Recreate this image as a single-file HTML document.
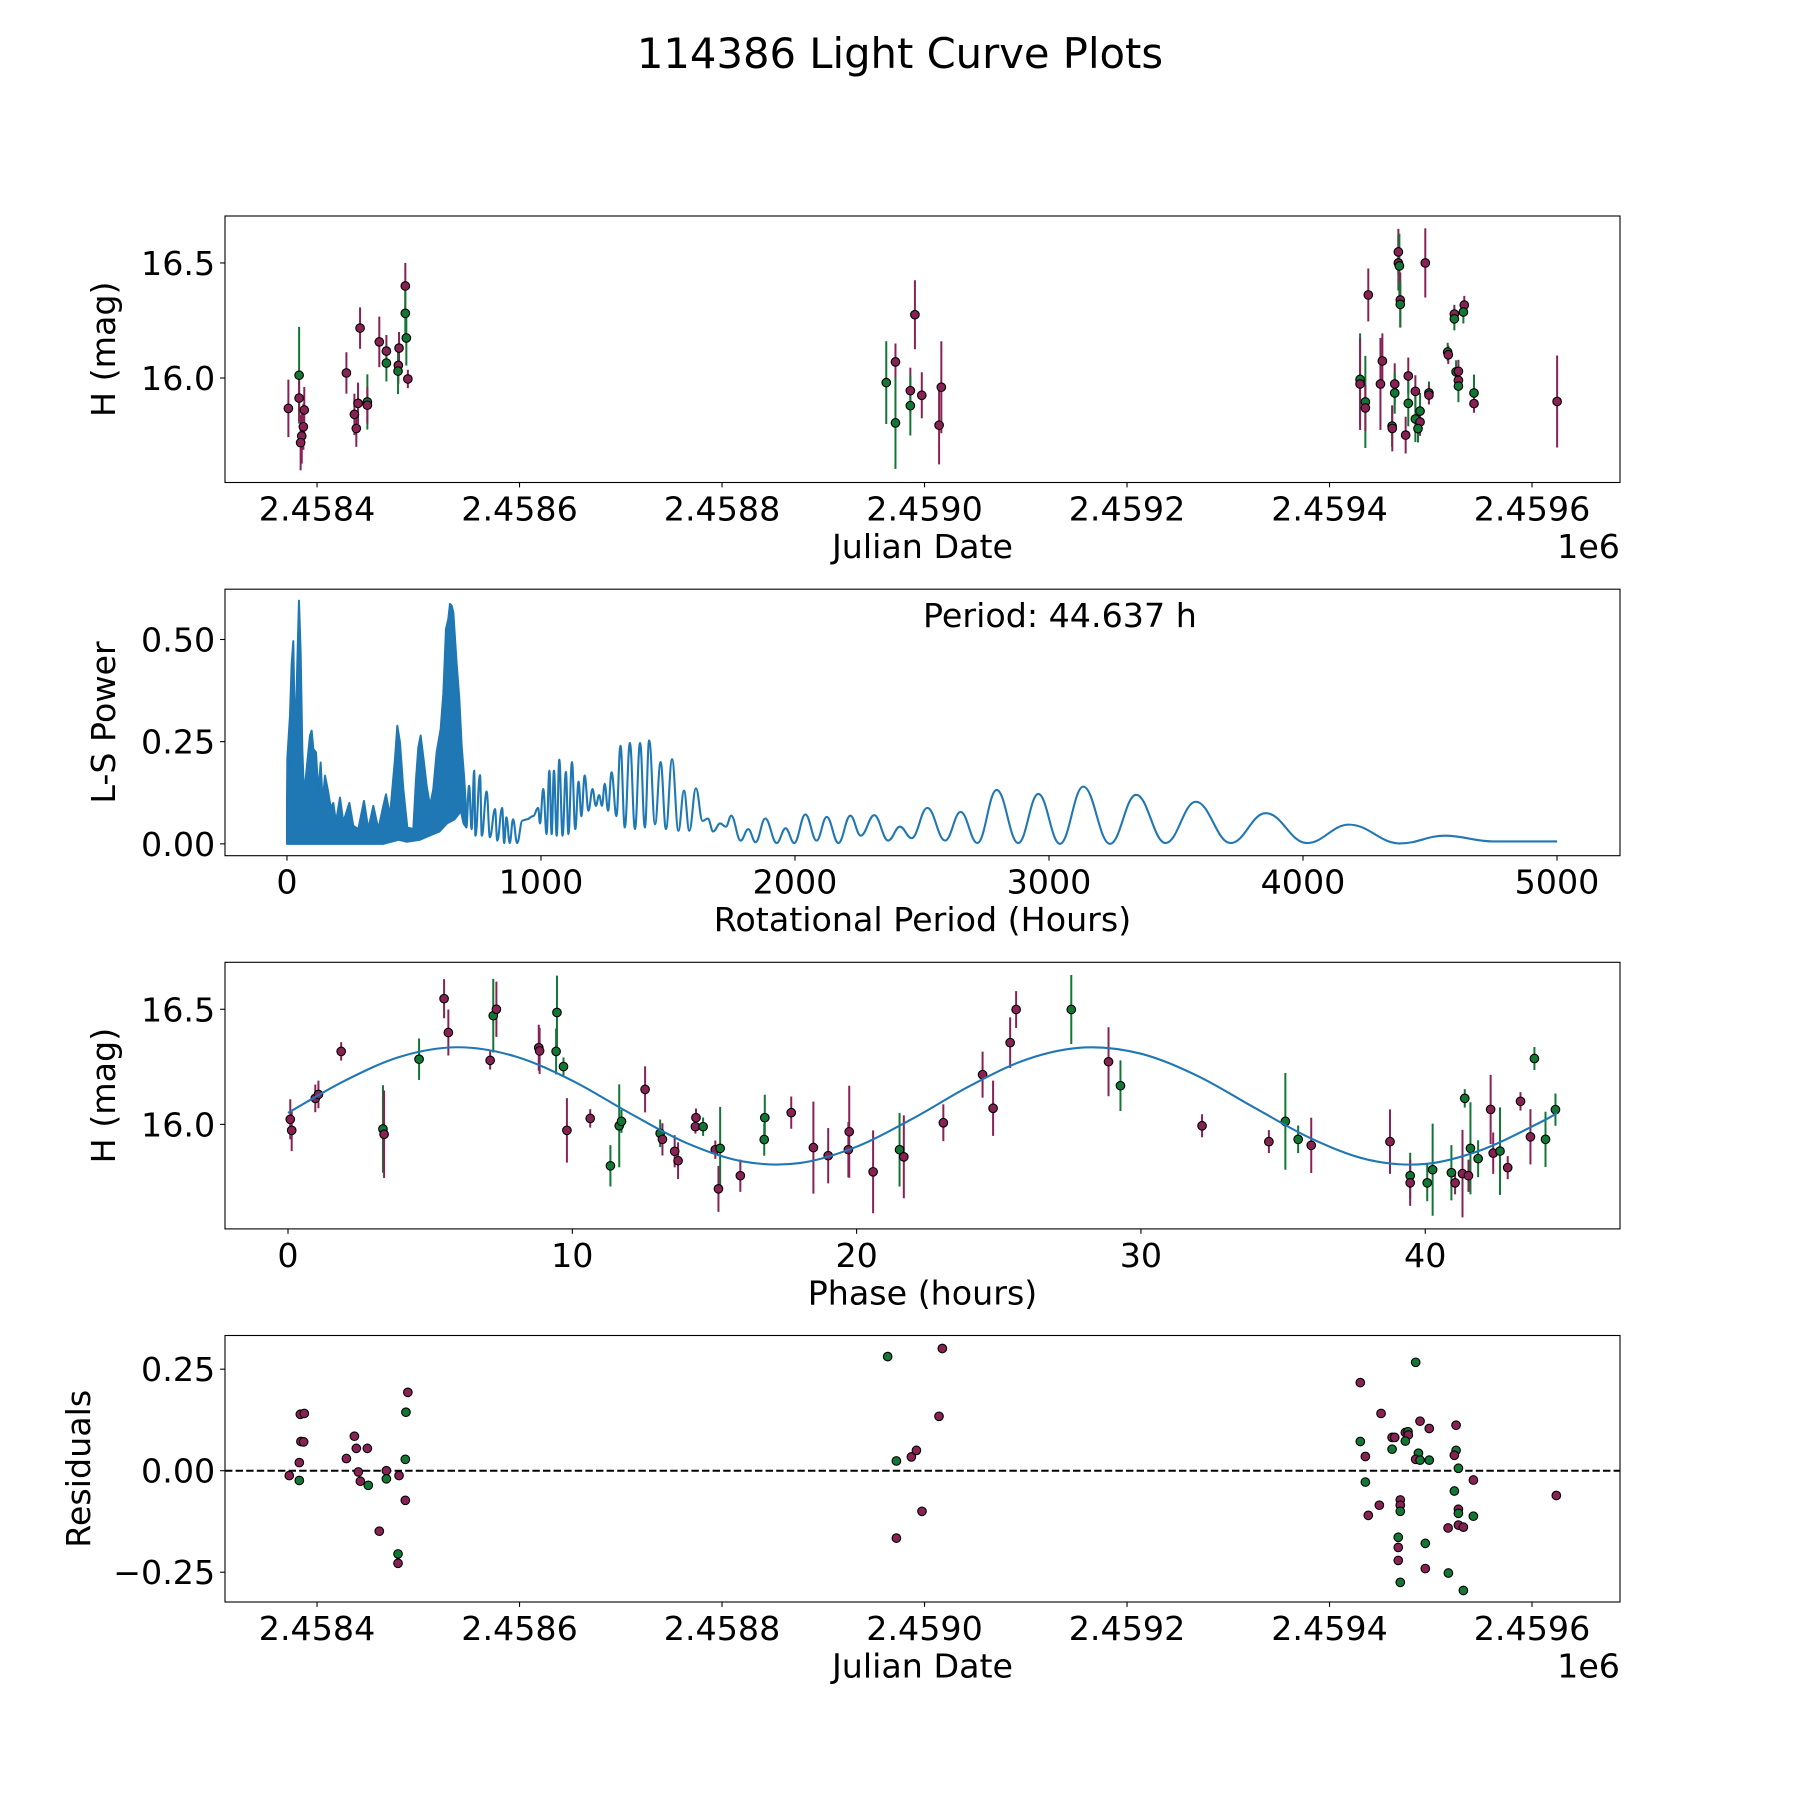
<!DOCTYPE html>
<html><head><meta charset="utf-8">
<style>
html,body{margin:0;padding:0;background:#fff;}
svg{display:block;font-family:"DejaVu Sans","Liberation Sans",sans-serif;}
</style></head>
<body>
<svg id="fig" width="1800" height="1800" viewBox="0 0 1800 1800" xmlns="http://www.w3.org/2000/svg">
<rect width="1800" height="1800" fill="#fff"/>
<text x="900" y="68" text-anchor="middle" font-size="41.7" fill="#000">114386 Light Curve Plots</text>
</svg>
<script>
// ---------- Panel 1: light curve (days since JD 2458400) ----------
const lcDay = [-28.3,-17.7,-17.7,-12.6,-13.5,-15.1,-16.2,29.0,42.5,36.9,38.8,40.5,49.7,49.7,61.5,68.5,68.5,81.0,80.3,80.0,87.2,87.2,88.2,89.7,
 562.2,571.3,571.3,586.0,586.0,590.5,597.3,614.4,616.6,
 1038.3,1030.2,1030.2,1035.4,1035.4,1052.2,1050.3,1068.0,1068.0,1069.0,1069.9,1069.9,1094.6,1061.8,1062.0,1064.4,1064.4,1077.8,1077.8,1075.2,1084.8,1084.8,1089.4,1089.4,1087.4,1098.2,1098.2,1123.3,1123.3,1133.1,1132.2,1116.7,1117.3,1125.0,1127.3,1127.3,1127.3,1142.7,1142.7,1224.8];
const lcMag = [15.868,16.012,15.913,15.861,15.788,15.748,15.719,16.022,16.217,15.842,15.781,15.89,15.896,15.882,16.157,16.117,16.065,16.13,16.055,16.03,16.40,16.281,16.174,15.996,
 15.98,16.07,15.805,15.945,15.88,16.275,15.925,15.795,15.96,
 16.361,15.994,15.974,15.896,15.87,16.074,15.974,16.548,16.5,16.487,16.339,16.32,16.5,15.791,15.781,15.974,15.935,16.009,15.89,15.752,15.942,15.822,15.856,15.809,15.78,15.935,15.926,16.278,16.257,16.317,16.287,16.113,16.101,16.027,16.029,15.99,15.965,15.935,15.889,15.898];
const lcErr = [0.125,0.21,0.10,0.10,0.10,0.12,0.12,0.09,0.09,0.09,0.08,0.09,0.12,0.08,0.11,0.07,0.08,0.07,0.08,0.10,0.10,0.10,0.12,0.04,
 0.18,0.08,0.20,0.10,0.13,0.15,0.10,0.17,0.20,
 0.115,0.20,0.20,0.20,0.10,0.12,0.20,0.10,0.12,0.14,0.12,0.10,0.15,0.09,0.10,0.09,0.09,0.08,0.10,0.08,0.07,0.10,0.08,0.06,0.06,0.05,0.04,0.04,0.05,0.04,0.05,0.04,0.04,0.05,0.05,0.04,0.07,0.08,0.04,0.20];
const lcBand = ['P','G','P','P','P','P','P','P','P','P','P','P','G','P','P','P','G','P','P','G','P','G','G','P',
 'G','P','G','P','G','P','P','P','P',
 'P','G','P','G','P','P','P','P','P','G','P','G','P','G','P','P','G','P','G','P','P','G','G','P','G','G','P','P','G','P','G','G','P','G','P','P','G','G','P','P'];
// ---------- Panel 2: Lomb-Scargle periodogram ----------
const denseP = [0,1.3,11.8,18.4,24.9,31.5,38,47.2,53.8,60.4,67,77.4,90.6,97.1,103.7,114.2,123.4,132.6,140.4,149.6,162.7,172,182.4,193,208.7,221.8,245.5,261.2,280.9,303.1,320.2,339.9,359.6,379.3,389.8,405.5,425.2,434.4,444.9,458,473.8,497.4,507.9,517.1,526.2,539.4,549.9,563,576.1,589.2,605,615.5,626,635.2,641.7,648.3,654.9,668,678.5,687.7,696.9,706];
const densePow = [0.10,0.208,0.314,0.44,0.496,0.248,0.379,0.595,0.468,0.232,0.118,0.183,0.265,0.277,0.232,0.224,0.126,0.199,0.10,0.167,0.126,0.089,0.10,0.053,0.113,0.053,0.10,0.044,0.036,0.105,0.036,0.093,0.036,0.093,0.121,0.069,0.208,0.289,0.248,0.134,0.04,0.036,0.158,0.236,0.265,0.199,0.142,0.093,0.134,0.224,0.281,0.367,0.526,0.55,0.587,0.583,0.566,0.44,0.355,0.24,0.167,0.08];
const lowerP = [0,380,440,472,524,560,600,630,660,685,695,706];
const lowerPow = [0,0,0.01,0.005,0.01,0.02,0.03,0.05,0.06,0.08,0.05,0.04];
const smoothP = [706,717,727,737,742,760,767,786,799,819,828,847,855,864,877,890,906,927,945,969,989,996,1009,1022,1033,1042,1051,1062,1072,1085,1098,1108,1122,1135,1148,1159,1172,1187,1203,1216,1229,1240,1251,1264,1278,1297,1313,1330,1350,1370,1390,1409,1426,1449,1471,1492,1516,1541,1563,1584,1610,1636,1657,1678,1705,1728,1749,1786,1816,1845,1883,1928,1963,1997,2041,2085,2125,2171,2218,2259,2312,2367,2413,2459,2521,2591,2652,2718,2794,2879,2958,3043,3135,3240,3343,3459,3578,3715,3853,4015,4181,4382,4559,4749,5000];
const smoothPow = [0.04,0.142,0.036,0.179,0.02,0.168,0.02,0.128,0.016,0.085,0.008,0.088,0.002,0.065,0.002,0.06,0.002,0.057,0.06,0.068,0.088,0.05,0.134,0.024,0.179,0.024,0.179,0.02,0.206,0.02,0.176,0.024,0.20,0.036,0.152,0.068,0.167,0.081,0.134,0.093,0.119,0.093,0.147,0.081,0.175,0.068,0.24,0.04,0.247,0.036,0.247,0.04,0.253,0.048,0.20,0.036,0.207,0.032,0.13,0.032,0.136,0.056,0.062,0.030,0.05,0.042,0.069,0.008,0.036,0.004,0.062,0.002,0.038,0.002,0.072,0.008,0.066,0.002,0.069,0.02,0.07,0.008,0.042,0.014,0.088,0.008,0.078,0.002,0.132,0.002,0.122,0.0,0.14,0.0,0.12,0.002,0.103,0.002,0.075,0.002,0.047,0.001,0.02,0.006,0.006];
const periodLabel = "Period: 44.637 h";
// ---------- Panel 3: phased light curve ----------
const phHour = [0.08,0.13,0.96,1.07,1.87,3.34,3.38,4.61,5.49,5.64,7.11,7.22,7.33,8.82,8.85,9.43,9.46,9.69,9.81,10.63,11.34,11.65,11.73,12.56,13.09,13.17,13.6,13.72,14.35,14.33,14.6,15.03,15.2,15.14,15.91,16.77,16.75,17.7,18.48,19.0,19.74,19.71,20.58,21.51,21.66,
 23.05,24.43,24.8,25.4,25.61,27.55,28.86,29.28,32.15,34.5,35.08,35.53,35.99,38.76,39.47,39.47,40.07,40.26,40.92,41.05,41.31,41.52,41.39,41.59,41.86,42.3,42.39,42.63,42.9,43.35,43.7,43.84,44.23,44.58];
const phMag = [16.022,15.974,16.113,16.13,16.317,15.98,15.957,16.283,16.546,16.399,16.278,16.472,16.5,16.333,16.319,16.317,16.486,16.251,15.974,16.026,15.82,15.994,16.013,16.152,15.961,15.935,15.883,15.842,16.029,15.99,15.99,15.89,15.896,15.72,15.777,16.029,15.934,16.051,15.899,15.864,15.968,15.89,15.794,15.89,15.859,
 16.007,16.216,16.07,16.355,16.499,16.499,16.272,16.168,15.994,15.925,16.013,15.935,15.909,15.925,15.777,15.746,15.746,15.803,15.79,15.746,15.786,15.777,16.113,15.896,15.851,16.065,15.875,15.884,15.812,16.1,15.946,16.286,15.935,16.064];
const phErr = [0.087,0.09,0.06,0.06,0.04,0.19,0.19,0.09,0.085,0.1,0.04,0.16,0.12,0.1,0.1,0.1,0.16,0.04,0.14,0.04,0.09,0.18,0.05,0.1,0.06,0.07,0.07,0.08,0.04,0.03,0.04,0.04,0.18,0.1,0.07,0.1,0.07,0.07,0.2,0.12,0.2,0.12,0.18,0.16,0.18,
 0.08,0.1,0.12,0.11,0.08,0.15,0.15,0.11,0.05,0.05,0.21,0.06,0.12,0.14,0.1,0.1,0.08,0.2,0.12,0.05,0.19,0.07,0.04,0.2,0.08,0.15,0.09,0.19,0.05,0.04,0.12,0.05,0.12,0.07];
const phBand = ['P','P','P','P','P','G','P','G','P','P','P','G','P','P','P','G','G','G','P','P','G','G','G','P','G','P','P','P','P','P','G','P','G','P','P','G','G','P','P','P','P','P','P','G','P',
 'P','P','P','P','P','G','P','G','P','P','G','G','P','P','G','P','G','G','G','P','P','P','G','G','G','P','P','G','P','P','P','G','G','G'];
const modelHour = [0,2,4,6,8,10,12,14,16,18,20,22,24,26,28,30,32,34,36,38,40,42,44,44.637];
const modelMag = [16.050,16.190,16.296,16.335,16.295,16.190,16.050,15.920,15.839,15.832,15.903,16.027,16.168,16.283,16.334,16.307,16.210,16.072,15.938,15.846,15.828,15.890,16.006,16.049];
// ---------- Panel 4: residuals ----------
const resDay = [-27.4,-17.5,-17.5,-15.9,-13.2,-16.5,-12.6,29.0,36.9,38.8,49.7,40.8,42.8,50.6,61.5,68.5,68.5,81.0,80.0,80.0,87.2,87.2,87.8,89.7,
 563.6,617.6,614.3,572.2,587.0,592.0,597.5,572.2,
 1030.4,1030.4,1035.4,1035.4,1038.3,1049.2,1050.9,1061.8,1064.4,1061.8,1074.9,1077.5,1077.8,1074.9,1085.1,1089.4,1098.5,1087.8,1085.1,1089.4,1098.5,1069.9,1069.9,1069.9,1067.9,1067.9,1067.9,1069.9,1094.6,1094.6,1125.0,1125.0,1123.3,1127.3,1123.3,1127.3,1127.3,1127.3,1132.2,1117.1,1117.4,1132.2,1142.1,1142.1,1224.0];
const resVal = [-0.012,-0.024,0.020,0.072,0.071,0.139,0.141,0.030,0.085,0.055,0.055,-0.003,-0.026,-0.036,-0.149,0.0,-0.020,-0.012,-0.205,-0.228,0.028,-0.073,0.144,0.193,
 0.281,0.301,0.134,0.024,0.034,0.05,-0.1,-0.166,
 0.217,0.072,0.035,-0.028,-0.110,-0.085,0.141,0.082,0.082,0.053,0.094,0.096,0.088,0.073,0.267,0.122,0.104,0.043,0.028,0.026,0.026,-0.072,-0.085,-0.1,-0.164,-0.189,-0.221,-0.275,-0.179,-0.241,0.112,0.05,0.038,0.006,-0.05,-0.095,-0.105,-0.134,-0.139,-0.141,-0.252,-0.295,-0.023,-0.112,-0.061];
const resBand = ['P','G','P','P','P','P','P','P','P','P','P','P','P','G','P','P','G','P','G','P','G','P','G','P',
 'G','P','P','G','P','P','P','P',
 'P','G','P','G','P','P','P','P','P','G','P','G','P','G','G','P','P','G','P','G','G','P','P','G','G','P','P','G','G','P','P','G','P','G','G','P','G','P','P','P','G','G','P','G','P'];
// ---------- Tick labels ----------
const jdTickVals = [2458400,2458600,2458800,2459000,2459200,2459400,2459600];
const jdTickLabels = ['2.4584','2.4586','2.4588','2.4590','2.4592','2.4594','2.4596'];
const magTickVals = [16.0,16.5];
const magTickLabels = ['16.0','16.5'];
const perTickVals = [0,1000,2000,3000,4000,5000];
const powTickVals = [0,0.25,0.5];
const powTickLabels = ['0.00','0.25','0.50'];
const phTickVals = [0,10,20,30,40];
const resTickVals = [-0.25,0,0.25];
const resTickLabels = ['\u22120.25','0.00','0.25'];

const JD0 = 2458400;
const NS='http://www.w3.org/2000/svg';
const svg=document.getElementById('fig');
const COL={P:'#882255',G:'#117733'};
function mk(tag,attrs,parent){const e=document.createElementNS(NS,tag);for(const k in attrs)e.setAttribute(k,attrs[k]);(parent||svg).appendChild(e);return e;}
function scale(d0,d1,r0,r1){return v=>r0+(v-d0)/(d1-d0)*(r1-r0);}
const L=225,R=1620;
const panels=[
 {top:216,bot:482.5,xd:[2458309.1,2459686.9],yd:[15.546,16.704]},
 {top:589.2,bot:855.7,xd:[-244,5248],yd:[-0.029,0.623]},
 {top:962.3,bot:1228.9,xd:[-2.216,46.85],yd:[15.546,16.704]},
 {top:1335.5,bot:1602,xd:[2458309.1,2459686.9],yd:[-0.3234,0.333]}
];
panels.forEach(p=>{p.x=scale(p.xd[0],p.xd[1],L,R);p.y=scale(p.yd[0],p.yd[1],p.bot,p.top);});

function axes(p,idx,xv,xl,yv,yl,xlabel,ylabel,ylabX,offset){
 const g=mk('g',{});
 
 
 xv.forEach((v,i)=>{const x=p.x(v);
  const t=mk('line',{x1:x,x2:x,y1:p.bot,y2:p.bot+4.9,stroke:'#000','stroke-width':1.1},g);
  
  
  const tx=mk('text',{x:x,y:p.bot+38,'text-anchor':'middle','font-size':33.3},g);tx.textContent=xl[i];
  
  
 });
 yv.forEach((v,i)=>{const y=p.y(v);
  const t=mk('line',{x1:L-4.9,x2:L,y1:y,y2:y,stroke:'#000','stroke-width':1.1},g);
  
  
  const tx=mk('text',{x:L-9.8,y:y+12,'text-anchor':'end','font-size':33.3},g);tx.textContent=yl[i];
  
  
 });
 const xlab=mk('text',{x:(L+R)/2,y:p.bot+75.5,'text-anchor':'middle','font-size':33.3},g);xlab.textContent=xlabel;
 
 
 const cy=(p.top+p.bot)/2;
 const ylab=mk('text',{x:ylabX,y:cy,'text-anchor':'middle','font-size':33.3,transform:'rotate(-90 '+ylabX+' '+cy+')'},g);ylab.textContent=ylabel;
 
 
 if(offset){const o=mk('text',{x:R,y:p.bot+75.5,'text-anchor':'end','font-size':33.3},g);o.textContent=offset;
  
  }
}
function frame(p){
 const r=mk('rect',{x:L,y:p.top,width:R-L,height:p.bot-p.top,fill:'none',stroke:'#000','stroke-width':1.1});
 
 
}
function clipFor(p,id){const c=mk('clipPath',{id:id});mk('rect',{x:L,y:p.top,width:R-L,height:p.bot-p.top},c);return 'url(#'+id+')';}
function errPoints(p,xs,ys,es,bs,name){
 const g=mk('g',{'clip-path':clipFor(p,name+'-clip')});
 
 
 xs.forEach((xv,i)=>{if(es){const x=p.x(xv);
  const l=mk('line',{x1:x,x2:x,y1:p.y(ys[i]-es[i]),y2:p.y(ys[i]+es[i]),stroke:COL[bs[i]],'stroke-width':2},g);
  
  }});
 xs.forEach((xv,i)=>{
  const c=mk('circle',{cx:p.x(xv),cy:p.y(ys[i]),r:4.3,fill:COL[bs[i]],stroke:'#000','stroke-width':1.1},g);
  
  
 });
}
// Panel 1
const p1=panels[0];
errPoints(p1,lcDay.map(d=>d+JD0),lcMag,lcErr,lcBand,'light-curve-points');
frame(p1);
axes(p1,1,jdTickVals,jdTickLabels,magTickVals,magTickLabels,'Julian Date','H (mag)',115,'1e6');
// Panel 2
const p2=panels[1];
(function(){
 const g=mk('g',{'clip-path':clipFor(p2,'ls-clip')});
 
 
 let d='M'+p2.x(denseP[0])+','+p2.y(densePow[0]);
 for(let i=1;i<denseP.length;i++)d+='L'+p2.x(denseP[i])+','+p2.y(densePow[i]);
 for(let i=lowerP.length-1;i>=0;i--)d+='L'+p2.x(lowerP[i])+','+p2.y(lowerPow[i]);
 d+='Z';
 const dense=mk('path',{d:d,fill:'#1f77b4',stroke:'#1f77b4','stroke-width':2,'stroke-linejoin':'round'},g);
 
 
 let s='M'+p2.x(smoothP[0])+','+p2.y(smoothPow[0]);
 for(let i=1;i<smoothP.length;i++){
  const x0=p2.x(smoothP[i-1]),x1=p2.x(smoothP[i]),y0=p2.y(smoothPow[i-1]),y1=p2.y(smoothPow[i]);
  const dx=(x1-x0)*0.4;
  s+='C'+(x0+dx)+','+y0+' '+(x1-dx)+','+y1+' '+x1+','+y1;
 }
 const line=mk('path',{d:s,fill:'none',stroke:'#1f77b4','stroke-width':2.1},g);
 
 
})();
frame(p2);
axes(p2,2,perTickVals,perTickVals.map(String),powTickVals,powTickLabels,'Rotational Period (Hours)','L-S Power',115,null);
const plab=mk('text',{x:923,y:627,'font-size':33.3});plab.textContent=periodLabel;


// Panel 3
const p3=panels[2];
errPoints(p3,phHour,phMag,phErr,phBand,'phased-points');
(function(){
 let s='M'+p3.x(modelHour[0])+','+p3.y(modelMag[0]);
 for(let i=1;i<modelHour.length;i++){
  const i0=Math.max(0,i-2),i3=Math.min(modelHour.length-1,i+1);
  const ax=p3.x(modelHour[i-1]),ay=p3.y(modelMag[i-1]),bx=p3.x(modelHour[i]),by=p3.y(modelMag[i]);
  const px=p3.x(modelHour[i0]),py=p3.y(modelMag[i0]),qx=p3.x(modelHour[i3]),qy=p3.y(modelMag[i3]);
  const c1x=ax+(bx-px)/6,c1y=ay+(by-py)/6,c2x=bx-(qx-ax)/6,c2y=by-(qy-ay)/6;
  s+='C'+c1x+','+c1y+' '+c2x+','+c2y+' '+bx+','+by;
 }
 const m=mk('path',{d:s,fill:'none',stroke:'#1f77b4','stroke-width':2.1});
 
 
})();
frame(p3);
axes(p3,3,phTickVals,phTickVals.map(String),magTickVals,magTickLabels,'Phase (hours)','H (mag)',115,null);
// Panel 4
const p4=panels[3];
const zl=mk('line',{x1:L,x2:R,y1:p4.y(0),y2:p4.y(0),stroke:'#000','stroke-width':2,'stroke-dasharray':'7.4,3.2'});


errPoints(p4,resDay.map(d=>d+JD0),resVal,null,resBand,'residual-points');
frame(p4);
axes(p4,4,jdTickVals,jdTickLabels,resTickVals,resTickLabels,'Julian Date','Residuals',90,'1e6');
</script>
</body></html>
